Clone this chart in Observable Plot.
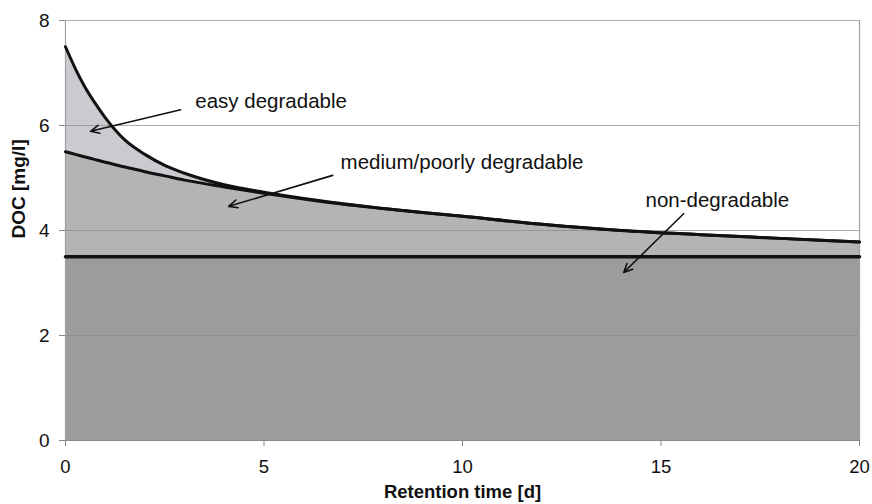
<!DOCTYPE html>
<html>
<head>
<meta charset="utf-8">
<script src="https://cdn.jsdelivr.net/npm/d3@7"></script>
<script src="https://cdn.jsdelivr.net/npm/@observablehq/plot@0.6"></script>
<style>
  html, body { margin: 0; padding: 0; background: #fff; }
  svg { font-family: "Liberation Sans", Arial, sans-serif; }
</style>
</head>
<body>
<div id="chart"></div>
<script>
// Retention time [d]
const time = [0, 0.25, 0.5, 0.75, 1, 1.5, 2, 2.5, 3, 4, 5, 6, 7, 8, 10, 12, 14, 16, 18, 20];
// DOC including easy degradable fraction [mg/l]
const easy = [7.50, 7.08, 6.72, 6.42, 6.15, 5.72, 5.45, 5.24, 5.09, 4.87, 4.73, 4.61, 4.51, 4.42, 4.27, 4.12, 4.00, 3.92, 3.85, 3.78];
// DOC medium/poorly degradable + non-degradable [mg/l]
const medium = [5.50, 5.45, 5.40, 5.35, 5.30, 5.21, 5.12, 5.04, 4.96, 4.83, 4.71, 4.60, 4.50, 4.42, 4.27, 4.12, 4.00, 3.92, 3.85, 3.78];
// non-degradable level [mg/l]
const nonDegradable = 3.5;

const xTicks = [0, 5, 10, 15, 20];
const yTicks = [0, 2, 4, 6, 8];

// annotations (data units)
const labels = ["easy degradable", "medium/poorly degradable", "non-degradable"];
const labelX = [3.27, 6.93, 14.61];
const labelY = [6.46, 5.30, 4.57];
const arrowX1 = [2.90, 6.73, 15.57];
const arrowY1 = [6.30, 5.05, 4.32];
const arrowX2 = [0.63, 4.11, 14.06];
const arrowY2 = [5.89, 4.46, 3.20];

const table = time.map((t, i) => ({t, easy: easy[i], medium: medium[i], non: nonDegradable}));
const notes = labels.map((text, i) => ({text, x: labelX[i], y: labelY[i], x1: arrowX1[i], y1: arrowY1[i], x2: arrowX2[i], y2: arrowY2[i]}));

const curve = "monotone-x";

const chart = Plot.plot({
  width: 872,
  height: 504,
  marginLeft: 65,
  marginRight: 13,
  marginTop: 20,
  marginBottom: 64,
  style: {fontFamily: '"Liberation Sans", Arial, sans-serif', background: "#fff"},
  x: {domain: [0, 20]},
  y: {domain: [0, 8]},
  marks: [
    Plot.areaY(table, {x: "t", y1: 0, y2: "non", fill: "#9c9c9c"}),
    Plot.areaY(table, {x: "t", y1: "non", y2: "medium", fill: "#b4b4b4", curve}),
    Plot.areaY(table, {x: "t", y1: "medium", y2: "easy", fill: "#cdc9d0", curve}),
    Plot.gridY(yTicks, {stroke: "#8a8a8a", strokeOpacity: 0.7, strokeWidth: 1}),
    Plot.ruleX([0, 20], {stroke: "#a0a0a0", strokeWidth: 1.2}),
    Plot.ruleY([0], {stroke: "#8a8a8a", strokeWidth: 1.2}),
    Plot.line(table, {x: "t", y: "non", stroke: "#111", strokeWidth: 3.5}),
    Plot.line(table, {x: "t", y: "medium", stroke: "#111", strokeWidth: 3, curve}),
    Plot.line(table, {x: "t", y: "easy", stroke: "#111", strokeWidth: 3, curve}),
    Plot.arrow(notes, {x1: "x1", y1: "y1", x2: "x2", y2: "y2", stroke: "#111", strokeWidth: 1.6, headLength: 9, headAngle: 50}),
    Plot.text(notes, {x: "x", y: "y", text: "text", textAnchor: "start", fontSize: 20.5, fill: "#111"}),
    Plot.axisX(xTicks, {tickSize: 6, tickPadding: 13, fontSize: 18.5, stroke: "#8a8a8a", color: "#111", label: null, tickFormat: d3.format("d")}),
    Plot.axisY(yTicks, {tickSize: 6, tickPadding: 10, fontSize: 19, stroke: "#8a8a8a", color: "#111", label: null, tickFormat: d3.format("d")}),
    Plot.text(["Retention time [d]"], {frameAnchor: "bottom", dy: 57, fontSize: 18.5, fontWeight: "bold", fill: "#111"}),
    Plot.text(["DOC [mg/l]"], {frameAnchor: "left", dx: -47, dy: 8, rotate: -90, fontSize: 19, fontWeight: "bold", fill: "#111"})
  ]
});
document.getElementById("chart").appendChild(chart);
</script>
</body>
</html>
